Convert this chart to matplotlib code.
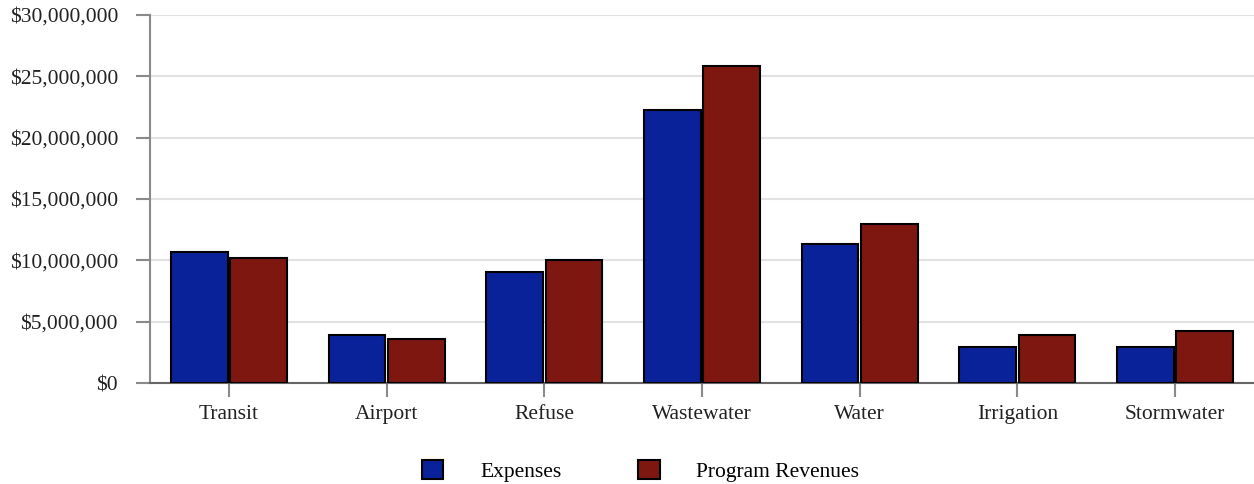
import matplotlib
matplotlib.use("Agg")
import matplotlib.pyplot as plt
import numpy as np
from matplotlib.ticker import FuncFormatter, MultipleLocator
from matplotlib.patches import Patch

categories = ["Transit", "Airport", "Refuse", "Wastewater", "Water", "Irrigation", "Stormwater"]
expenses = [10.65e6, 3.9e6, 9.05e6, 22.25e6, 11.3e6, 2.95e6, 2.95e6]
program_revenues = [10.15e6, 3.6e6, 10.0e6, 25.85e6, 12.95e6, 3.95e6, 4.25e6]
series_names = ["Expenses", "Program Revenues"]
colors = ["#0a2299", "#7d1710"]

plt.rcParams["font.family"] = ["Liberation Serif", "DejaVu Serif"]
FS = 15.5

fig = plt.figure(figsize=(12.54, 4.84), dpi=100)
ax = fig.add_axes([150 / 1254, 1 - 383 / 484, 1 - 150 / 1254, (383 - 15) / 484])

x = np.arange(len(categories))
w = 0.36
gap = 0.008
ax.bar(x - w / 2 - gap, expenses, width=w, color=colors[0], edgecolor="black", linewidth=1.5, zorder=3)
ax.bar(x + w / 2 + gap, program_revenues, width=w, color=colors[1], edgecolor="black", linewidth=1.5, zorder=3)

ax.set_xlim(-0.5, len(categories) - 0.5)
ax.set_ylim(0, 30e6)
ax.yaxis.set_major_locator(MultipleLocator(5e6))
ax.yaxis.set_major_formatter(FuncFormatter(lambda v, p: f"${v:,.0f}"))
ax.set_xticks(x)
ax.set_xticklabels(categories)

ax.grid(axis="y", color="#e2e2e2", linewidth=1.5, zorder=0)
ax.set_axisbelow(True)
for s in ["top", "right"]:
    ax.spines[s].set_visible(False)
ax.spines["left"].set_color("#8a8a8a")
ax.spines["left"].set_linewidth(1.5)
ax.spines["bottom"].set_color("#666666")
ax.spines["bottom"].set_linewidth(1.5)
ax.tick_params(axis="y", length=10, width=1.5, color="#8a8a8a", labelsize=FS, pad=13, labelcolor="#222222")
ax.tick_params(axis="x", length=10, width=1.5, color="#8a8a8a", labelsize=FS, pad=6, labelcolor="#222222")

handles = [Patch(facecolor=c, edgecolor="black", linewidth=1.5) for c in colors]
fig.legend(handles, series_names, loc="center", bbox_to_anchor=(0.5108, 1 - 471 / 484),
           ncol=2, frameon=False, fontsize=FS, handlelength=1.0, handleheight=1.0,
           handletextpad=1.7, columnspacing=3.57)

fig.savefig("out.png", dpi=100)
